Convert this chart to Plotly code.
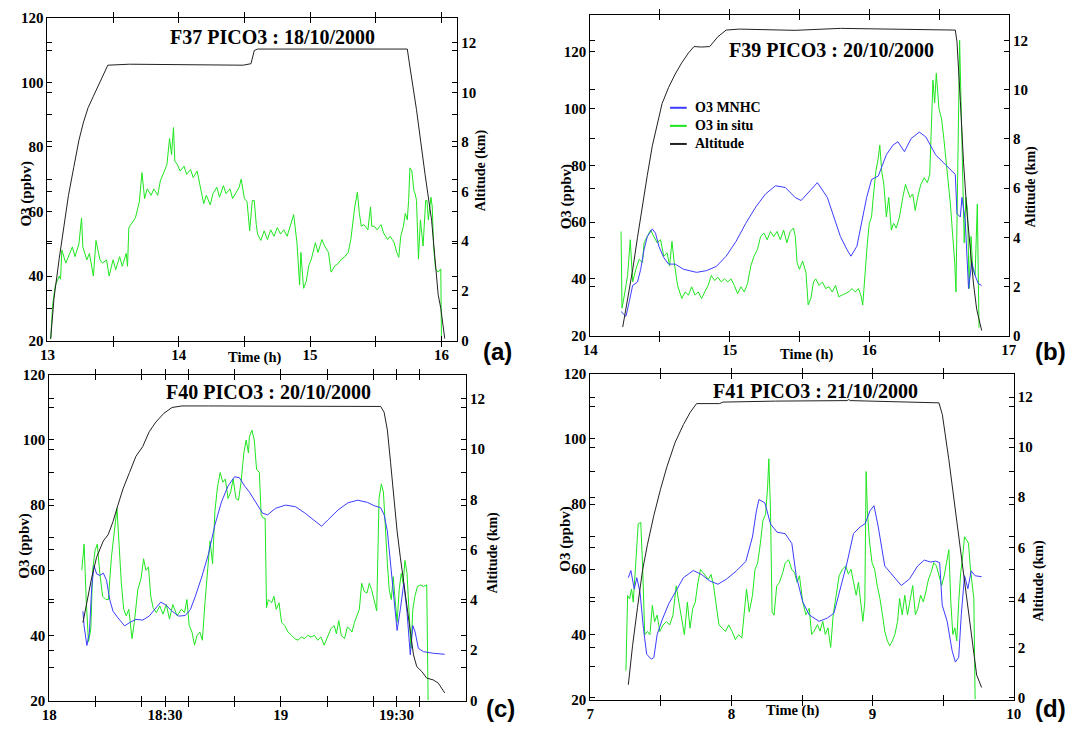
import plotly.graph_objects as go

# ---------------- F37 PICO3 : 18/10/2000 ----------------
a_t_insitu = [13.025, 13.04, 13.06, 13.09, 13.10, 13.11, 13.14, 13.16, 13.19, 13.21,
              13.24, 13.26, 13.27, 13.30, 13.32, 13.35, 13.37, 13.40, 13.42, 13.45,
              13.47, 13.50, 13.52, 13.55, 13.57, 13.60, 13.61, 13.62, 13.65, 13.67,
              13.70, 13.72, 13.74, 13.76, 13.79, 13.81, 13.84, 13.86, 13.89, 13.91,
              13.93, 13.945, 13.96, 13.97, 13.99, 14.01, 14.04, 14.06, 14.09, 14.11,
              14.14, 14.16, 14.19, 14.21, 14.24, 14.26, 14.29, 14.31, 14.34, 14.36,
              14.39, 14.41, 14.44, 14.46, 14.475, 14.49, 14.50, 14.52, 14.54, 14.56,
              14.575, 14.59, 14.60, 14.625, 14.65, 14.675, 14.70, 14.725, 14.75, 14.775,
              14.80, 14.825, 14.85, 14.875, 14.90, 14.92, 14.93, 14.95, 14.97, 14.99,
              15.01, 15.04, 15.06, 15.09, 15.11, 15.14, 15.16, 15.19, 15.21, 15.24,
              15.26, 15.29, 15.31, 15.34, 15.36, 15.375, 15.39, 15.41, 15.44, 15.46,
              15.47, 15.49, 15.51, 15.54, 15.56, 15.59, 15.61, 15.64, 15.66, 15.675,
              15.69, 15.71, 15.725, 15.74, 15.75, 15.76, 15.775, 15.79, 15.80, 15.81,
              15.825, 15.84, 15.85, 15.86, 15.88, 15.89, 15.90, 15.92, 15.93, 15.94,
              15.955, 15.975, 15.995, 16.0]
a_o3_insitu = [20.5, 31, 37, 40, 39, 48, 44, 46, 49, 46,
               50, 58, 49, 45, 47, 40, 51, 45, 44, 45,
               40, 45, 42, 46, 43, 47, 43, 55, 57, 58,
               63, 72, 64, 67, 65, 67, 65, 69.5, 72.5, 74.5,
               82.6, 77.6, 86, 75.6, 74.5, 72.5, 74, 71.5, 73, 70.5,
               72.5, 68, 62.4, 65, 62, 65.5, 67.5, 64.4, 68, 65.5,
               67, 64, 66, 67.5, 70, 65.5, 64, 63, 54, 63.4,
               63.4, 56, 53, 51, 54, 51.3, 54.3, 52.3, 55, 53,
               54.3, 52.3, 55.4, 59, 50.3, 37.2, 47.3, 36.2, 38.2, 43.2,
               45.3, 50.3, 47.3, 51.3, 49.3, 47.3, 41.2, 43.2, 43.7, 45.3,
               45.8, 47.3, 51.3, 61.4, 66, 59.4, 55.4, 55.9, 54.3, 61.4,
               55.4, 55.4, 54.3, 55.9, 53.3, 51.3, 52.3, 50.3, 47.3, 45.8,
               52.3, 55.4, 59.4, 57.4, 63.4, 73.5, 72.5, 66.5, 65.5, 63.4,
               45.3, 57.4, 53.3, 49.3, 63.4, 63.4, 57.4, 64.4, 61.4, 49.3,
               42.2, 41.2, 42.2, 20]
a_t_alt = [13.025, 13.05, 13.09, 13.125, 13.16, 13.2, 13.24, 13.275, 13.31, 13.35,
           13.39, 13.425, 13.46, 13.625, 14.49, 14.55, 14.575, 14.6, 15.74, 15.76,
           15.81, 15.875, 15.925, 15.975, 15.995, 16.025]
a_alt = [0.07, 1.7, 3.3, 4.6, 5.84, 6.96, 8.07, 8.8, 9.38, 9.84,
         10.3, 10.7, 11.09, 11.13, 11.09, 11.15, 11.68, 11.74, 11.74, 11.02,
         9.3, 6.7, 4.85, 1.85, 1.3, 0.08]

# ---------------- F39 PICO3 : 20/10/2000 ----------------
b_t_mnhc = [14.221, 14.256, 14.28, 14.304, 14.339, 14.362, 14.386, 14.409, 14.445, 14.468,
            14.492, 14.527, 14.562, 14.609, 14.668, 14.762, 14.833, 14.904, 14.974, 15.045,
            15.115, 15.186, 15.256, 15.327, 15.398, 15.468, 15.511, 15.628, 15.699, 15.746,
            15.793, 15.84, 15.868, 15.911, 15.946, 15.981, 16.016, 16.064, 16.122, 16.169,
            16.205, 16.252, 16.299, 16.358, 16.405, 16.475, 16.546, 16.616, 16.628, 16.652,
            16.664, 16.687, 16.711, 16.734, 16.758, 16.781, 16.805]
b_o3_mnhc = [28.5, 26.8, 32, 37.7, 38.9, 43.4, 50.3, 54.9, 57.6, 56.1,
             51.5, 47.5, 45.2, 45.2, 43.4, 42.3, 42.9, 44.4, 48, 53.2,
             59.6, 65.3, 69.9, 72.8, 72.2, 68.7, 67.6, 73.9, 68.7, 61.8,
             54.9, 50.3, 48, 51.5, 59.6, 68.7, 75, 76.2, 83.7, 87.1,
             88.3, 84.8, 89.4, 91.7, 90, 83.7, 80.2, 76.8, 63, 61.8,
             68.7, 60.7, 36.6, 45.8, 41.2, 38.3, 37.7]
b_t_insitu = [14.221, 14.228, 14.245, 14.268, 14.287, 14.304, 14.327, 14.351, 14.374, 14.386,
              14.409, 14.433, 14.456, 14.48, 14.504, 14.527, 14.551, 14.569, 14.586, 14.602,
              14.626, 14.656, 14.68, 14.704, 14.727, 14.751, 14.774, 14.798, 14.821, 14.845,
              14.868, 14.892, 14.915, 14.939, 14.962, 14.986, 15.009, 15.033, 15.056, 15.08,
              15.104, 15.127, 15.151, 15.174, 15.198, 15.221, 15.245, 15.268, 15.292, 15.315,
              15.339, 15.362, 15.386, 15.409, 15.433, 15.456, 15.47, 15.482, 15.499, 15.522,
              15.546, 15.562, 15.581, 15.6, 15.616, 15.64, 15.664, 15.687, 15.711, 15.734,
              15.758, 15.781, 15.805, 15.828, 15.852, 15.875, 15.899, 15.922, 15.939, 15.953,
              15.969, 15.986, 16.0, 16.016, 16.028, 16.047, 16.064, 16.075, 16.089, 16.104,
              16.122, 16.139, 16.158, 16.174, 16.193, 16.216, 16.24, 16.259, 16.275, 16.292,
              16.311, 16.329, 16.346, 16.369, 16.393, 16.416, 16.433, 16.447, 16.456, 16.468,
              16.48, 16.499, 16.518, 16.534, 16.558, 16.581, 16.598, 16.612, 16.621, 16.635,
              16.647, 16.659, 16.671, 16.68, 16.692, 16.704, 16.715, 16.729, 16.741, 16.758,
              16.774, 16.786]
b_o3_insitu = [56.7, 29.7, 34.3, 41.2, 53.8, 38.9, 43.4, 46.9, 45.8, 52.7,
               54.9, 57.2, 54.9, 52.7, 53.8, 48, 49.2, 44.6, 53.2, 45.8,
               37.7, 33.1, 35.4, 34.3, 37.2, 34.3, 35.4, 33.1, 35.4, 37.7,
               41.2, 39.4, 40.6, 38.9, 40, 38.9, 40, 37.7, 34.8, 37.2,
               35.4, 38.3, 44.6, 48, 50.3, 54.9, 56.1, 53.8, 56.7, 54.9,
               56.7, 53.8, 57.2, 52.7, 56.7, 57.9, 55, 45.8, 43.4, 46.3,
               42.3, 30.8, 33.1, 38.9, 40, 37.7, 38.9, 36.6, 37.2, 35.4,
               37.7, 33.7, 34.3, 34.8, 35.4, 36.6, 35.4, 36.6, 34.3, 30.8,
               43.4, 52.7, 59.6, 61.8, 68.7, 77.9, 82.5, 87.1, 77.9, 73.3,
               61.8, 68.7, 57.2, 59.6, 57.9, 61.8, 68.7, 73.3, 71, 68.7,
               69.9, 64.1, 68.7, 73.3, 75.6, 73.9, 76.8, 98.6, 110, 102,
               112.4, 100, 96.3, 89.4, 77.9, 66.4, 54.9, 45.8, 35.4, 84.8,
               124, 98.6, 66.4, 52.7, 68.7, 64.1, 36.6, 54.9, 43.4, 41.2,
               66.4, 22.8]
b_t_alt = [14.233, 14.268, 14.304, 14.339, 14.374, 14.409, 14.445, 14.48, 14.515, 14.562,
           14.609, 14.656, 14.704, 14.744, 14.798, 14.856, 14.915, 14.974, 15.068, 15.468,
           15.781, 15.793, 16.616, 16.628, 16.652, 16.675, 16.699, 16.722, 16.746, 16.769,
           16.805]
b_alt = [0.35, 1.47, 2.67, 4.0, 5.33, 6.52, 7.72, 8.65, 9.44, 10.1,
         10.64, 11.1, 11.5, 11.76, 11.74, 11.76, 12.16, 12.43, 12.47, 12.42,
         12.47, 12.5, 12.43, 11.96, 9.57, 7.05, 5.06, 3.47, 2.14, 1.08,
         0.21]

# ---------------- F40 PICO3 : 20/10/2000 ----------------
c_t_mnhc = [18.145, 18.15, 18.162, 18.173, 18.183, 18.193, 18.204, 18.218, 18.233, 18.247,
            18.261, 18.275, 18.296, 18.325, 18.346, 18.374, 18.403, 18.431, 18.46, 18.481,
            18.502, 18.53, 18.559, 18.587, 18.609, 18.63, 18.658, 18.687, 18.715, 18.743,
            18.772, 18.8, 18.821, 18.843, 18.864, 18.892, 18.921, 18.942, 18.977, 19.02,
            19.063, 19.105, 19.148, 19.176, 19.204, 19.247, 19.29, 19.332, 19.375, 19.403,
            19.431, 19.446, 19.46, 19.474, 19.488, 19.502, 19.516, 19.531, 19.545, 19.559,
            19.57, 19.58, 19.594, 19.616, 19.658, 19.708]
c_o3_mnhc = [47.4, 42.9, 36.9, 40.9, 54.9, 61.4, 58.9, 58.4, 59.1, 56.9,
             50.9, 47.4, 45.4, 42.9, 43.9, 44.9, 44.7, 45.9, 48.4, 50.2,
             49.4, 47.4, 45.9, 46.1, 47.9, 51.9, 57.9, 64.9, 73.9, 80.9,
             85.9, 88.7, 88.4, 85.9, 84, 81, 77.5, 77, 79, 80,
             79.5, 77.5, 75, 73.5, 75.5, 78.5, 80.7, 81.5, 80.8, 79.8,
             79.2, 77, 72, 62, 51, 41.5, 48, 56, 47, 34,
             43, 41, 36, 35, 34.5, 34.2]
c_t_insitu = [18.14, 18.15, 18.159, 18.169, 18.179, 18.187, 18.197, 18.207, 18.218, 18.23,
              18.244, 18.255, 18.268, 18.282, 18.292, 18.301, 18.311, 18.321, 18.332, 18.343,
              18.357, 18.367, 18.382, 18.396, 18.407, 18.417, 18.428, 18.438, 18.448, 18.462,
              18.477, 18.491, 18.505, 18.519, 18.533, 18.552, 18.57, 18.584, 18.594, 18.604,
              18.616, 18.627, 18.638, 18.65, 18.661, 18.672, 18.684, 18.694, 18.705, 18.715,
              18.726, 18.738, 18.749, 18.76, 18.772, 18.783, 18.794, 18.806, 18.817, 18.828,
              18.84, 18.85, 18.86, 18.864, 18.875, 18.885, 18.895, 18.907, 18.915, 18.924,
              18.932, 18.938, 18.946, 18.96, 18.97, 18.98, 18.992, 19.003, 19.017, 19.031,
              19.046, 19.06, 19.074, 19.088, 19.102, 19.116, 19.13, 19.145, 19.159, 19.173,
              19.187, 19.2, 19.216, 19.23, 19.24, 19.25, 19.261, 19.275, 19.287, 19.297,
              19.307, 19.318, 19.329, 19.339, 19.349, 19.36, 19.372, 19.382, 19.392, 19.403,
              19.414, 19.424, 19.434, 19.443, 19.451, 19.46, 19.468, 19.477, 19.485, 19.494,
              19.502, 19.511, 19.52, 19.528, 19.536, 19.545, 19.553, 19.562, 19.57, 19.579,
              19.59, 19.602, 19.616, 19.63, 19.636]
c_o3_insitu = [60, 68, 51, 38, 42, 60, 66, 68, 59, 52,
               51, 51, 64, 74, 79, 68, 56, 48, 46, 48,
               39, 44, 54, 57.5, 63.5, 60, 61, 52, 48.5, 47,
               49, 46.5, 49.5, 45, 49.5, 46, 48, 47, 51, 43,
               41, 37, 40, 41, 38.5, 50, 60, 69, 62, 78,
               85.5, 90, 87, 88, 82, 84, 88, 82, 81.5, 87,
               96, 100, 96, 101, 103, 100, 91, 90, 77, 76,
               76, 48.5, 51, 50, 52, 48, 50, 44, 43, 41,
               40, 39, 38.5, 39.5, 39, 40, 39.5, 40, 38.5, 39.5,
               37, 39, 42, 43, 40.5, 44.5, 40, 39, 42.5, 42,
               41, 44, 46, 48, 56, 53.5, 53, 56, 54, 51,
               47.5, 82, 86.5, 84, 72, 62, 54, 51, 58, 50,
               44, 54, 59, 56, 63, 59, 48, 36, 48, 52,
               55, 55.5, 55, 55.5, 20]
c_t_alt = [18.145, 18.162, 18.183, 18.204, 18.233, 18.254, 18.275, 18.296, 18.318, 18.346,
           18.374, 18.403, 18.431, 18.46, 18.495, 18.53, 18.573, 18.687, 18.864, 19.431,
           19.446, 19.46, 19.474, 19.488, 19.502, 19.516, 19.531, 19.545, 19.559, 19.573,
           19.587, 19.609, 19.63, 19.658, 19.68, 19.708]
c_alt = [3.1, 3.98, 4.9, 5.7, 6.35, 6.6, 7.12, 7.77, 8.42, 9.07,
         9.72, 10.1, 10.69, 11.08, 11.43, 11.66, 11.72, 11.72, 11.72, 11.7,
         11.47, 10.76, 9.46, 8.04, 6.74, 5.7, 4.67, 3.63, 2.72, 1.81,
         1.35, 1.15, 0.89, 0.82, 0.69, 0.3]

# ---------------- F41 PICO3 : 21/10/2000 ----------------
d_t_mnhc = [7.27, 7.288, 7.312, 7.33, 7.353, 7.377, 7.4, 7.433, 7.451, 7.474,
            7.509, 7.556, 7.602, 7.66, 7.73, 7.788, 7.847, 7.905, 7.963, 8.033,
            8.102, 8.149, 8.177, 8.195, 8.237, 8.277, 8.323, 8.381, 8.428, 8.459,
            8.505, 8.551, 8.621, 8.679, 8.726, 8.772, 8.819, 8.865, 8.912, 8.947,
            8.982, 9.01, 9.04, 9.086, 9.145, 9.203, 9.261, 9.319, 9.366, 9.412,
            9.447, 9.475, 9.493, 9.528, 9.563, 9.586, 9.61, 9.628, 9.651, 9.675,
            9.698, 9.726, 9.772]
d_o3_mnhc = [57.4, 59.6, 53.9, 57.4, 52.9, 41.9, 33.9, 32.4, 32.9, 39.9,
             44.4, 49.4, 52.9, 57.4, 59.6, 58.4, 56.4, 55.4, 56.9, 59.4,
             62.4, 69.9, 77.9, 81.4, 80.4, 73.9, 71.4, 70.9, 67.9, 58,
             50, 46, 44, 45, 46.5, 54, 62, 71, 73, 74,
             78, 79.5, 73, 61, 58, 55, 57, 61, 62.8, 62.2,
             62.5, 62, 49, 44, 35, 31.5, 33, 46, 58, 54,
             59.5, 58, 57.7]
d_t_insitu = [7.253, 7.265, 7.279, 7.293, 7.305, 7.316, 7.33, 7.34, 7.358, 7.372,
              7.386, 7.405, 7.423, 7.44, 7.456, 7.474, 7.493, 7.516, 7.54, 7.563,
              7.586, 7.609, 7.628, 7.649, 7.667, 7.688, 7.707, 7.726, 7.744, 7.763,
              7.781, 7.8, 7.819, 7.837, 7.856, 7.874, 7.893, 7.912, 7.935, 7.958,
              7.981, 8.005, 8.028, 8.051, 8.074, 8.093, 8.107, 8.126, 8.149, 8.167,
              8.186, 8.205, 8.223, 8.242, 8.256, 8.265, 8.277, 8.288, 8.302, 8.321,
              8.34, 8.363, 8.381, 8.405, 8.428, 8.447, 8.465, 8.482, 8.505, 8.528,
              8.551, 8.568, 8.586, 8.61, 8.628, 8.647, 8.665, 8.684, 8.703, 8.721,
              8.74, 8.763, 8.786, 8.81, 8.828, 8.847, 8.865, 8.884, 8.9, 8.917,
              8.931, 8.945, 8.954, 8.963, 8.977, 8.996, 9.014, 9.033, 9.052, 9.07,
              9.086, 9.105, 9.121, 9.14, 9.158, 9.177, 9.191, 9.21, 9.228, 9.247,
              9.265, 9.284, 9.303, 9.321, 9.34, 9.359, 9.377, 9.396, 9.414, 9.433,
              9.452, 9.47, 9.489, 9.507, 9.526, 9.54, 9.554, 9.568, 9.582, 9.596,
              9.61, 9.624, 9.638, 9.651, 9.665, 9.679, 9.693, 9.707, 9.717, 9.726]
d_o3_insitu = [28.9, 51.9, 50.9, 53.9, 49.9, 57.9, 65.9, 73.9, 74.4, 59.9,
               39.9, 40.9, 39.9, 48.9, 43.9, 45.9, 40.9, 42.9, 43.9, 42.9,
               45.9, 54.9, 49.9, 43.9, 39.9, 49.9, 41.9, 47.9, 49.9, 55.9,
               59.9, 58.9, 57.9, 56.9, 58.4, 54.9, 48.9, 42.9, 41.9, 40.9,
               42.9, 40.9, 38.4, 39.9, 38.9, 48.9, 53.9, 46.9, 51.9, 59.9,
               61.9, 67.9, 74.9, 76.9, 84.9, 93.9, 77.9, 46.9, 45.9, 54.9,
               55.9, 58.9, 61.9, 62.9, 59.9, 59, 56, 58, 50, 46,
               48, 40, 41, 43, 41, 44, 40, 42, 36, 46,
               52, 58, 60, 61, 58.5, 60, 56, 52, 56, 50,
               44, 50, 90, 78, 69, 62, 60, 55, 51, 46,
               41, 38, 36.5, 38, 40, 44, 51, 46, 52, 46,
               51, 55, 46, 48, 52, 50, 53, 57, 59, 62,
               61, 58, 55, 58, 62, 66, 50, 40, 42, 38,
               50, 59, 64, 70, 69, 68, 60, 54, 51, 20]
d_t_alt = [7.27, 7.3, 7.335, 7.37, 7.405, 7.451, 7.498, 7.544, 7.602, 7.66,
           7.707, 7.753, 7.916, 7.94, 8.312, 8.424, 8.819, 8.83, 8.842, 9.47,
           9.494, 9.54, 9.587, 9.633, 9.68, 9.726, 9.737, 9.772]
d_alt = [0.51, 2.07, 3.6, 5.06, 6.1, 7.28, 8.32, 9.23, 10.2, 10.9,
         11.38, 11.74, 11.74, 11.8, 11.84, 11.84, 11.86, 11.9, 11.86, 11.77,
         11.3, 9.5, 7.4, 5.46, 3.38, 1.3, 0.9, 0.4]

# tick labels
a_xticks = [13, 13.5, 14, 14.5, 15, 15.5, 16]
a_xlabels = ["13", "", "14", "", "15", "", "16"]
b_xticks = [14, 14.5, 15, 15.5, 16, 16.5, 17]
b_xlabels = ["14", "", "15", "", "16", "", "17"]
c_xticks = [18, 18.2, 18.4, 18.5, 18.6, 18.8, 19, 19.2, 19.4, 19.5, 19.6]
c_xlabels = ["18", "", "", "18:30", "", "", "19", "", "", "19:30", ""]
d_xticks = [7, 7.5, 8, 8.5, 9, 9.5, 10]
d_xlabels = ["7", "", "8", "", "9", "", "10"]
o3_ticks10 = [20, 30, 40, 50, 60, 70, 80, 90, 100, 110, 120]
o3_labels10 = ["20", "", "40", "", "60", "", "80", "", "100", "", "120"]
o3_ticks20 = [20, 40, 60, 80, 100, 120]
alt_ticks = [0, 2, 4, 6, 8, 10, 12]

# legend entries of the F39 panel
legend_names = ["O3 MNHC", "O3 in situ", "Altitude"]

for t, v in [(a_t_insitu, a_o3_insitu), (a_t_alt, a_alt),
             (b_t_mnhc, b_o3_mnhc), (b_t_insitu, b_o3_insitu), (b_t_alt, b_alt),
             (c_t_mnhc, c_o3_mnhc), (c_t_insitu, c_o3_insitu), (c_t_alt, c_alt),
             (d_t_mnhc, d_o3_mnhc), (d_t_insitu, d_o3_insitu), (d_t_alt, d_alt)]:
    assert len(t) == len(v)

W, H = 1075, 731
SERIF = "Liberation Serif, Times New Roman, serif"
SANS = "Liberation Sans, Arial, sans-serif"
GREEN = "#1ee61e"
BLUE = "#3c3cff"
BLACK = "#222222"
TICKFONT = dict(family=SERIF, size=15, color="black", weight="bold")


def fx(p):
    return p / W


def fy(p):
    return 1 - p / H


def x_axis(left, right, rng, vals, text, anchor):
    return dict(domain=[fx(left), fx(right)], range=rng, anchor=anchor,
                tickmode="array", tickvals=vals, ticktext=text,
                ticks="inside", ticklen=5, tickcolor="black",
                showline=True, linecolor="black", linewidth=1, mirror="allticks",
                showgrid=False, zeroline=False, tickfont=TICKFONT, fixedrange=True)


def y_left(top, bottom, rng, vals, text, anchor):
    return dict(domain=[fy(bottom), fy(top)], range=rng, anchor=anchor,
                tickmode="array", tickvals=vals, ticktext=text,
                ticks="inside", ticklen=5, tickcolor="black",
                showline=True, linecolor="black", linewidth=1, mirror="allticks",
                showgrid=False, zeroline=False, tickfont=TICKFONT, fixedrange=True)


def y_right(over, rng, anchor):
    return dict(overlaying=over, side="right", range=rng, anchor=anchor,
                tickmode="array", tickvals=alt_ticks,
                ticks="inside", ticklen=5, tickcolor="black",
                showline=True, linecolor="black", linewidth=1, mirror="allticks",
                showgrid=False, zeroline=False, tickfont=TICKFONT, fixedrange=True)


fig = go.Figure()


def line(t, v, color, xa, ya):
    fig.add_trace(go.Scatter(x=t, y=v, mode="lines", xaxis=xa, yaxis=ya,
                             line=dict(color=color, width=1),
                             showlegend=False, hoverinfo="skip"))


# (a)
line(a_t_insitu, a_o3_insitu, GREEN, "x", "y")
line(a_t_alt, a_alt, BLACK, "x", "y2")
# (b)
line(b_t_insitu, b_o3_insitu, GREEN, "x2", "y3")
line(b_t_mnhc, b_o3_mnhc, BLUE, "x2", "y3")
line(b_t_alt, b_alt, BLACK, "x2", "y4")
# (c)
line(c_t_insitu, c_o3_insitu, GREEN, "x3", "y5")
line(c_t_mnhc, c_o3_mnhc, BLUE, "x3", "y5")
line(c_t_alt, c_alt, BLACK, "x3", "y6")
# (d)
line(d_t_insitu, d_o3_insitu, GREEN, "x4", "y7")
line(d_t_mnhc, d_o3_mnhc, BLUE, "x4", "y7")
line(d_t_alt, d_alt, BLACK, "x4", "y8")


def note(text, x, y, size=13, angle=0, family=SERIF, anchor="center"):
    return dict(text=text, x=fx(x), y=fy(y), xref="paper", yref="paper",
                showarrow=False, textangle=angle, xanchor=anchor, yanchor="middle",
                font=dict(family=family, size=size, color="black", weight="bold"))


annotations = [
    note("F37 PICO3 : 18/10/2000", 268, 30, 20),
    note("F39 PICO3 : 20/10/2000", 836, 43, 20),
    note("F40 PICO3 : 20/10/2000", 264, 393, 20),
    note("F41 PICO3 : 21/10/2000", 820, 392, 20),
    note("O3 (ppbv)", 19, 190, 15, -90),
    note("O3 (ppbv)", 567, 193, 15, -90),
    note("O3 (ppbv)", 17, 550, 15, -90),
    note("O3 (ppbv)", 566, 543, 15, -90),
    note("Altitude (km)", 481, 166, 14, -90),
    note("Altitude (km)", 1038, 183, 14, -90),
    note("Altitude (km)", 492, 557, 14, -90),
    note("Altitude (km)", 1047, 585, 14, -90),
    note("Time (h)", 250, 357, 14.5),
    note("Time (h)", 811, 354, 14.5),
    note("Time (h)", 796, 718, 14.5),
    note("(a)", 497, 351, 24, 0, SANS),
    note("(b)", 1058, 351, 24, 0, SANS),
    note("(c)", 500, 716, 24, 0, SANS),
    note("(d)", 1058, 716, 24, 0, SANS),
]

# legend of panel (b): short line samples with bold labels
shapes = []
for name, color, row_y in zip(legend_names, [BLUE, GREEN, BLACK], [102, 120.5, 139]):
    shapes.append(dict(type="line", xref="paper", yref="paper",
                       x0=fx(672), x1=fx(689), y0=fy(row_y), y1=fy(row_y),
                       line=dict(color=color, width=2)))
    annotations.append(note(name, 695, row_y, 14, 0, SERIF, "left"))

fig.update_layout(
    width=W, height=H, margin=dict(l=0, r=0, t=0, b=0),
    paper_bgcolor="white", plot_bgcolor="white", showlegend=False,
    xaxis=x_axis(40, 456, [13, 16.12], a_xticks, a_xlabels, "y"),
    yaxis=y_left(10, 340, [20, 120], o3_ticks10, o3_labels10, "x"),
    yaxis2=y_right("y", [0, 13], "x"),
    xaxis2=x_axis(591, 1016, [14, 17], b_xticks, b_xlabels, "y3"),
    yaxis3=y_left(7, 335, [20, 133], o3_ticks20, [str(v) for v in o3_ticks20], "x2"),
    yaxis4=y_right("y3", [0, 13.05], "x2"),
    xaxis3=x_axis(42, 465, [18, 19.8], c_xticks, c_xlabels, "y5"),
    yaxis5=y_left(375, 708, [20, 120], o3_ticks10, o3_labels10, "x3"),
    yaxis6=y_right("y5", [0, 12.96], "x3"),
    xaxis4=x_axis(591, 1021, [7, 10], d_xticks, d_xlabels, "y7"),
    yaxis7=y_left(374, 707, [20, 120], o3_ticks10, o3_labels10, "x4"),
    yaxis8=y_right("y7", [-0.08, 12.93], "x4"),
    shapes=shapes,
    annotations=annotations,
)

fig.write_html("out.html")
